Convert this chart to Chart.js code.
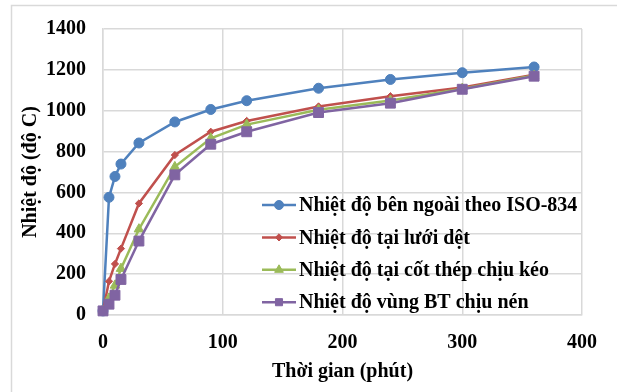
<!DOCTYPE html>
<html>
<head>
<meta charset="utf-8">
<script src="https://cdn.jsdelivr.net/npm/chart.js@4.4.1/dist/chart.umd.min.js"></script>
<style>
  html, body { margin: 0; padding: 0; background: #ffffff; }
  #wrap { width: 617px; height: 392px; position: relative; }
</style>
</head>
<body>
<div id="wrap"><canvas id="c" width="617" height="392"></canvas></div>
<script>
// ---- data ----
const timesMin = [0, 5, 10, 15, 30, 60, 90, 120, 180, 240, 300, 360];
const isoOutside = [20, 576, 678, 739, 842, 945, 1006, 1049, 1110, 1153, 1186, 1214];
const atTextileMesh = [20, 165, 250, 325, 546, 783, 897, 950, 1021, 1071, 1114, 1176];
const atTensionSteel = [20, 82, 145, 227, 420, 725, 865, 932, 1005, 1050, 1108, 1172];
const compressionZone = [20, 53, 97, 174, 362, 686, 836, 897, 991, 1037, 1105, 1169];
const seriesLabels = [
  'Nhiệt độ bên ngoài theo ISO-834',
  'Nhiệt độ tại lưới dệt',
  'Nhiệt độ tại cốt thép chịu kéo',
  'Nhiệt độ vùng BT chịu nén'
];
const xTicks = [0, 100, 200, 300, 400];
const yTicks = [0, 200, 400, 600, 800, 1000, 1200, 1400];
const xTitle = 'Thời gian (phút)';
const yTitle = 'Nhiệt độ (độ C)';

const FONT = 'Liberation Serif';
const GRID = '#d9d9d9';

function toPts(vals) { return timesMin.map((t, i) => ({ x: t, y: vals[i] })); }

const styles = [
  { color: '#4F81BD', pointStyle: 'circle', radius: 5 },
  { color: '#C0504D', pointStyle: 'rectRot', radius: 3.6 },
  { color: '#9BBB59', pointStyle: 'triangle', radius: 5.5 },
  { color: '#8064A2', pointStyle: 'rect', radius: 7 }
];
const seriesValues = [isoOutside, atTextileMesh, atTensionSteel, compressionZone];

const datasets = seriesValues.map((vals, i) => ({
  label: seriesLabels[i],
  data: toPts(vals),
  borderColor: styles[i].color,
  backgroundColor: styles[i].color,
  pointBackgroundColor: styles[i].color,
  pointBorderColor: styles[i].color,
  pointBorderWidth: 1,
  pointStyle: styles[i].pointStyle,
  pointRadius: styles[i].radius,
  borderWidth: 2.5,
  tension: 0,
  clip: false,
  order: seriesValues.length - i
}));

const frame = {
  id: 'frame',
  beforeDraw(chart) {
    const ctx = chart.ctx;
    ctx.save();
    ctx.fillStyle = '#ffffff';
    ctx.fillRect(0, 0, chart.width, chart.height);
    ctx.strokeStyle = GRID;
    ctx.lineWidth = 1.5;
    ctx.strokeRect(11.5, 5.5, 800, 600);
    ctx.restore();
  }
};

const innerLegend = {
  id: 'innerLegend',
  afterDraw(chart) {
    const ctx = chart.ctx;
    const a = chart.chartArea;
    const x0 = a.left + 159, x1 = a.left + 193, tx = a.left + 196;
    const y0 = 205, dy = 32.4;
    ctx.save();
    chart.data.datasets.forEach((ds, i) => {
      const y = y0 + i * dy;
      ctx.strokeStyle = ds.borderColor;
      ctx.lineWidth = 2.5;
      ctx.beginPath();
      ctx.moveTo(x0, y);
      ctx.lineTo(x1, y);
      ctx.stroke();
      ctx.fillStyle = ds.borderColor;
      ctx.strokeStyle = ds.borderColor;
      ctx.lineWidth = 1;
      const r = i === 1 ? 3.6 : (i === 0 ? 4.5 : 5);
      if (Chart.helpers && Chart.helpers.drawPoint) {
        Chart.helpers.drawPoint(ctx, { pointStyle: ds.pointStyle, radius: r, rotation: 0, borderWidth: 1 }, (x0 + x1) / 2, y);
      }
      ctx.fillStyle = '#000000';
      ctx.font = 'bold 20px "' + FONT + '"';
      ctx.textAlign = 'left';
      ctx.textBaseline = 'middle';
      ctx.fillText(ds.label, tx, y + 1);
    });
    ctx.restore();
  }
};

new Chart(document.getElementById('c'), {
  type: 'line',
  data: { datasets },
  options: {
    responsive: false,
    animation: false,
    devicePixelRatio: 1,
    layout: { padding: { left: 0, top: 24, right: 35, bottom: 0 } },
    plugins: {
      legend: { display: false },
      tooltip: { enabled: false },
      title: { display: false }
    },
    scales: {
      x: {
        type: 'linear',
        min: 0, max: 400,
        afterBuildTicks(scale) { scale.ticks = xTicks.map(v => ({ value: v })); },
        afterFit(scale) { scale.height = 77; },
        grid: { color: GRID, lineWidth: 1.5, drawTicks: false },
        border: { color: GRID, width: 1.5 },
        ticks: {
          padding: 16,
          color: '#000000',
          font: { family: FONT, size: 20, weight: 'bold' },
          maxRotation: 0,
          callback: v => String(v)
        },
        title: {
          display: true,
          text: xTitle,
          color: '#000000',
          font: { family: FONT, size: 20, weight: 'bold' },
          padding: { top: 0, bottom: 8 }
        }
      },
      y: {
        min: 0, max: 1400,
        afterBuildTicks(scale) { scale.ticks = yTicks.map(v => ({ value: v })); },
        afterFit(scale) { scale.width = 103; },
        grid: { color: GRID, lineWidth: 1.5, drawTicks: false },
        border: { color: GRID, width: 1.5 },
        ticks: {
          padding: 17,
          color: '#000000',
          font: { family: FONT, size: 20, weight: 'bold' },
          callback: v => String(v)
        },
        title: {
          display: true,
          text: yTitle,
          color: '#000000',
          font: { family: FONT, size: 20, weight: 'bold' },
          padding: { top: 19, bottom: 0 }
        }
      }
    }
  },
  plugins: [frame, innerLegend]
});
</script>
</body>
</html>
